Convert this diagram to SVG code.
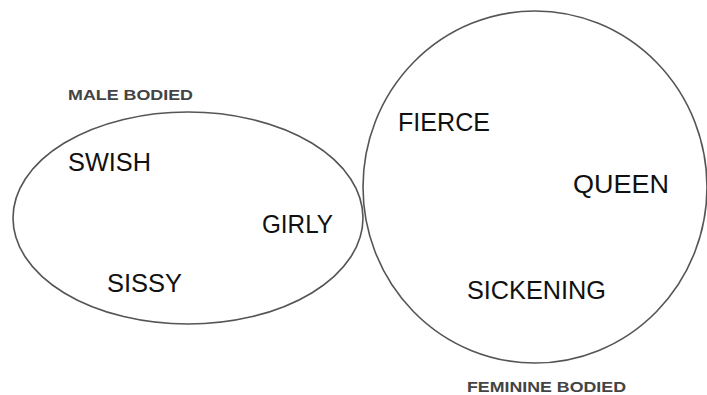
<svg xmlns="http://www.w3.org/2000/svg" width="707" height="395" viewBox="0 0 707 395">
<style>
.set{fill:none;stroke:#555;stroke-width:1.6}
.t{font-family:"Liberation Sans",Arial,sans-serif;font-size:25px;fill:#111}
.h{font-family:"Liberation Sans",Arial,sans-serif;font-size:15px;font-weight:bold;fill:#444}
</style>
<rect width="707" height="395" fill="#fff"/>
<g id="male-bodied">
<ellipse class="set" cx="188" cy="218" rx="175" ry="106"/>
<text class="h" x="68" y="100" textLength="125" lengthAdjust="spacingAndGlyphs">MALE BODIED</text>
</g>
<g id="feminine-bodied">
<ellipse class="set" cx="535" cy="187" rx="172" ry="176"/>
<text class="h" x="467" y="391.5" textLength="159" lengthAdjust="spacingAndGlyphs">FEMININE BODIED</text>
</g>
<g id="swish"><text class="t" x="68" y="171" textLength="83" lengthAdjust="spacingAndGlyphs">SWISH</text></g>
<g id="girly"><text class="t" x="262" y="233" textLength="71" lengthAdjust="spacingAndGlyphs">GIRLY</text></g>
<g id="sissy"><text class="t" x="107" y="292" textLength="75" lengthAdjust="spacingAndGlyphs">SISSY</text></g>
<g id="fierce"><text class="t" x="398" y="131" textLength="92" lengthAdjust="spacingAndGlyphs">FIERCE</text></g>
<g id="queen"><text class="t" x="573" y="193" textLength="96" lengthAdjust="spacingAndGlyphs">QUEEN</text></g>
<g id="sickening"><text class="t" x="467" y="299" textLength="139" lengthAdjust="spacingAndGlyphs">SICKENING</text></g>
<g id="connectors"></g>
</svg>
